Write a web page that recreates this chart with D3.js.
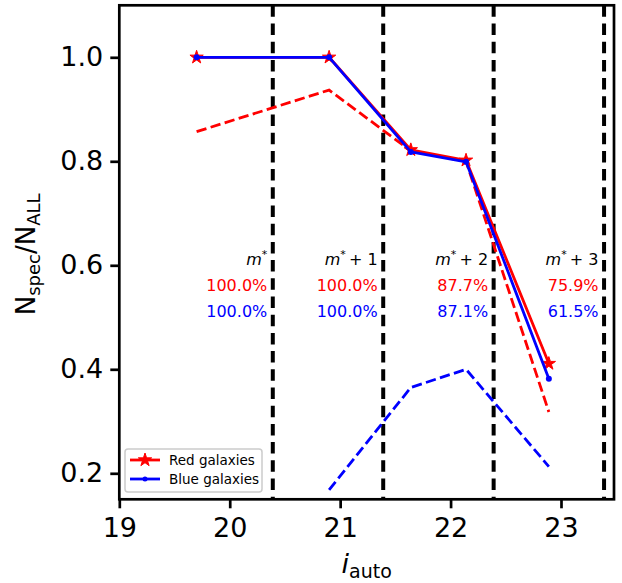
<!DOCTYPE html>
<html>
<head>
<meta charset="utf-8">
<script src="https://cdn.jsdelivr.net/npm/d3@7"></script>
<style>
  html, body { margin: 0; padding: 0; background: #fff; }
  svg { display: block; font-family: "DejaVu Sans", sans-serif; }
</style>
</head>
<body>
<svg id="chart" width="622" height="583"></svg>
<script>
// Magnitude bins (i_auto) and spectroscopic completeness
const magBins = [19.7, 20.9, 21.64, 22.14, 22.89];
const redSolid = [1.0, 1.0, 0.822, 0.802, 0.411];
const blueSolid = [1.0, 1.0, 0.818, 0.799, 0.382];
const redDashed = [0.857, 0.937, 0.82, 0.80, 0.318];
const blueDashed = [null, 0.168, 0.365, 0.40, 0.213];

// m* boundaries and their labels
const mStarLines = [20.39, 21.39, 22.39, 23.39];
const mStarSuffix = ["", "+ 1", "+ 2", "+ 3"];
const redPercent = ["100.0%", "100.0%", "87.7%", "75.9%"];
const bluePercent = ["100.0%", "100.0%", "87.1%", "61.5%"];

const xTicks = [19, 20, 21, 22, 23];
const yTicks = [0.2, 0.4, 0.6, 0.8, 1.0];

const RED = "#ff0000", BLUE = "#0000ff";

const svg = d3.select("#chart");
const L = 119.3, R = 614, T = 5.3, B = 499.3;

const x = d3.scaleLinear().domain([19, 23.48]).range([L, R]);
const y = d3.scaleLinear().domain([0.15, 1.1]).range([B, T]);

const plot = svg.append("g");
plot.append("clipPath").attr("id", "clip")
  .append("rect").attr("x", L).attr("y", T).attr("width", R - L).attr("height", B - T);
const inner = plot.append("g").attr("clip-path", "url(#clip)");

// vertical m* boundaries
inner.selectAll("line.mstar").data(mStarLines).join("line")
  .attr("class", "mstar")
  .attr("x1", d => x(d)).attr("x2", d => x(d))
  .attr("y1", T).attr("y2", B)
  .attr("stroke", "#000").attr("stroke-width", 4)
  .attr("stroke-dasharray", "11.5,6.7");

const line = d3.line()
  .defined(d => d[1] !== null)
  .x(d => x(d[0])).y(d => y(d[1]));

const zipped = arr => magBins.map((m, i) => [m, arr[i]]);

// dashed curves
inner.append("path").datum(zipped(redDashed))
  .attr("d", line).attr("fill", "none").attr("stroke", RED)
  .attr("stroke-width", 2.8).attr("stroke-dasharray", "10.3,4.4");
inner.append("path").datum(zipped(blueDashed))
  .attr("d", line).attr("fill", "none").attr("stroke", BLUE)
  .attr("stroke-width", 2.8).attr("stroke-dasharray", "10.3,4.4");

// red galaxies: solid line with stars
inner.append("path").datum(zipped(redSolid))
  .attr("d", line).attr("fill", "none").attr("stroke", RED)
  .attr("stroke-width", 2.8).attr("stroke-linejoin", "round");
const star = d3.symbol().type(d3.symbolStar).size(55);
inner.selectAll("path.rstar").data(zipped(redSolid)).join("path")
  .attr("class", "rstar")
  .attr("transform", d => `translate(${x(d[0])},${y(d[1])})`)
  .attr("d", star).attr("fill", RED).attr("stroke", RED).attr("stroke-width", 1);

// blue galaxies: solid line with dots
inner.append("path").datum(zipped(blueSolid))
  .attr("d", line).attr("fill", "none").attr("stroke", BLUE)
  .attr("stroke-width", 2.8).attr("stroke-linejoin", "round");
inner.selectAll("circle.bdot").data(zipped(blueSolid)).join("circle")
  .attr("class", "bdot")
  .attr("cx", d => x(d[0])).attr("cy", d => y(d[1])).attr("r", 3)
  .attr("fill", BLUE);

// bin labels
const labels = plot.append("g").attr("font-size", 16).attr("text-anchor", "end");
mStarLines.forEach((m, i) => {
  const tx = x(m - 0.05);
  const t = labels.append("text").attr("x", tx).attr("y", y(0.6)).attr("fill", "#000");
  t.append("tspan").attr("font-style", "italic").text("m");
  t.append("tspan").attr("font-size", 11).attr("dy", -7).text("*");
  if (mStarSuffix[i]) t.append("tspan").attr("dy", 7).text("\u2009" + mStarSuffix[i]);
  labels.append("text").attr("x", tx).attr("y", y(0.55)).attr("fill", RED).text(redPercent[i]);
  labels.append("text").attr("x", tx).attr("y", y(0.5)).attr("fill", BLUE).text(bluePercent[i]);
});

// axes
const xAxis = d3.axisBottom(x).tickValues(xTicks).tickFormat(d3.format("d"))
  .tickSizeInner(9).tickSizeOuter(0).tickPadding(10);
const yAxis = d3.axisLeft(y).tickValues(yTicks).tickFormat(d3.format(".1f"))
  .tickSizeInner(9).tickSizeOuter(0).tickPadding(7);

const gx = svg.append("g").attr("transform", `translate(0,${B})`).call(xAxis);
const gy = svg.append("g").attr("transform", `translate(${L},0)`).call(yAxis);
[gx, gy].forEach(g => {
  g.select(".domain").remove();
  g.selectAll(".tick line").attr("stroke", "#000").attr("stroke-width", 2.7);
  g.selectAll(".tick text").attr("font-size", 27).attr("fill", "#000")
    .attr("font-family", "DejaVu Sans, sans-serif");
});

// frame
svg.append("rect").attr("x", L).attr("y", T).attr("width", R - L).attr("height", B - T)
  .attr("fill", "none").attr("stroke", "#000").attr("stroke-width", 2.7);

// axis titles
const xl = svg.append("text").attr("x", (L + R) / 2).attr("y", 573)
  .attr("text-anchor", "middle").attr("font-size", 27).attr("fill", "#000");
xl.append("tspan").attr("font-style", "italic").text("i");
xl.append("tspan").attr("font-size", 19).attr("dy", 5).text("auto");

const yl = svg.append("text")
  .attr("transform", `translate(35,${(T + B) / 2 + 2}) rotate(-90)`)
  .attr("text-anchor", "middle").attr("font-size", 26).attr("fill", "#000");
yl.append("tspan").text("N");
yl.append("tspan").attr("font-size", 18).attr("dy", 5).text("spec");
yl.append("tspan").attr("dy", -5).text("/N");
yl.append("tspan").attr("font-size", 18).attr("dy", 5).text("ALL");

// legend
const lg = svg.append("g");
lg.append("rect").attr("x", 125).attr("y", 449).attr("width", 137).attr("height", 43)
  .attr("rx", 3).attr("fill", "#fff").attr("fill-opacity", 0.8)
  .attr("stroke", "#cccccc").attr("stroke-width", 1.5);
const legendItems = [
  { label: "Red galaxies", color: RED, y: 460, marker: "star" },
  { label: "Blue galaxies", color: BLUE, y: 479, marker: "dot" }
];
legendItems.forEach(it => {
  lg.append("line").attr("x1", 130).attr("x2", 160).attr("y1", it.y).attr("y2", it.y)
    .attr("stroke", it.color).attr("stroke-width", 2.8);
  if (it.marker === "star") {
    lg.append("path").attr("transform", `translate(145,${it.y})`).attr("d", star)
      .attr("fill", it.color).attr("stroke", it.color).attr("stroke-width", 1);
  } else {
    lg.append("circle").attr("cx", 145).attr("cy", it.y).attr("r", 2.5).attr("fill", it.color);
  }
  lg.append("text").attr("x", 169).attr("y", it.y + 4.8).attr("font-size", 13.5)
    .attr("fill", "#000").text(it.label);
});
</script>
</body>
</html>
